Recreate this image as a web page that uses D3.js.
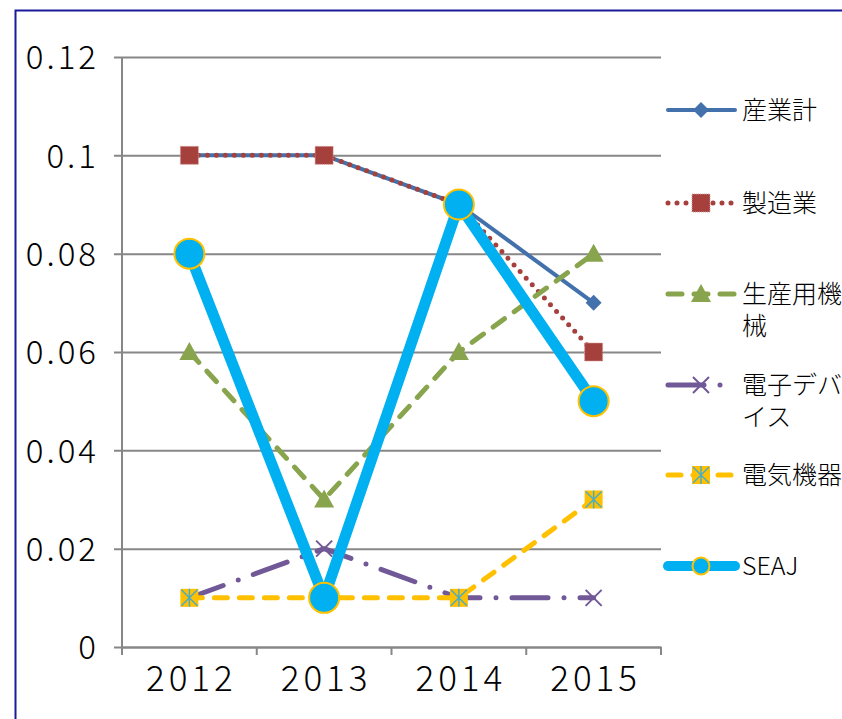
<!DOCTYPE html>
<html>
<head>
<meta charset="utf-8">
<script src="https://cdn.jsdelivr.net/npm/d3@7"></script>
<style>
  body { margin: 0; background: #fff; }
  text { font-family: "Noto Sans CJK JP", "Noto Sans", sans-serif; fill: #000; }
</style>
</head>
<body>
<script>
const years = ['2012', '2013', '2014', '2015'];
const yTicks = [0, 0.02, 0.04, 0.06, 0.08, 0.1, 0.12];

const sangyo = [0.1, 0.1, 0.09, 0.07];
const seizo = [0.1, 0.1, 0.09, 0.06];
const seisanKikai = [0.06, 0.03, 0.06, 0.08];
const denshiDevice = [0.01, 0.02, 0.01, 0.01];
const denkiKiki = [0.01, 0.01, 0.01, 0.03];
const seaj = [0.08, 0.01, 0.09, 0.05];

const width = 842;
const height = 719;

const series = [
    {name: ['産業計'], values: sangyo, color: '#4271AC', w: 4, dash: null, marker: 'diamond'},
    {name: ['製造業'], values: seizo, color: '#A5403D', w: 5, dash: '0 9', marker: 'square'},
    {name: ['生産用機', '械'], values: seisanKikai, color: '#88A44C', w: 5, dash: '14 12', marker: 'triangle'},
    {name: ['電子デバ', 'イス'], values: denshiDevice, color: '#705996', w: 5, dash: '36 16 0 16', marker: 'x'},
    {name: ['電気機器'], values: denkiKiki, color: '#FFC000', w: 5, dash: '13 12', marker: 'star'},
    {name: ['SEAJ'], values: seaj, color: '#00B0F0', w: 11, dash: null, marker: 'circle'}
];

const svg = d3.select('body').append('svg').
    attr('width', width).
    attr('height', height);

svg.append('rect').
    attr('x', 15.5).attr('y', 10.5).
    attr('width', 900).attr('height', 800).
    attr('fill', '#fff').
    attr('stroke', '#1a1a9c').
    attr('stroke-width', 2);

const plot = {left: 122, right: 661, top: 57, bottom: 647};

const xScale = d3.scaleBand().
    domain(years).
    range([plot.left, plot.right]);

const yScale = d3.scaleLinear().
    domain([0, 0.12]).
    range([plot.bottom, plot.top]);

const cx = (i) => xScale(years[i]) + xScale.bandwidth() / 2;

// gridlines + y axis
const yAxis = d3.axisLeft(yScale).
    tickValues(yTicks).
    tickSize(-(plot.right - plot.left)).
    tickFormat((d) => d3.format('')(+d.toFixed(2)));

const gy = svg.append('g').
    attr('transform', `translate(${plot.left}, 0)`).
    call(yAxis);
gy.select('.domain').remove();
gy.selectAll('.tick line').
    attr('x1', -8).
    attr('stroke', '#878787').
    attr('stroke-width', 2);
gy.selectAll('.tick text').
    attr('x', -23).
    attr('dy', '0.36em').
    style('font-size', '33px').
    style('font-weight', 300).
    style('letter-spacing', '3px').
    style('font-family', '"Noto Sans CJK JP", sans-serif');

svg.append('line').
    attr('x1', plot.left).attr('x2', plot.left).
    attr('y1', plot.top).attr('y2', plot.bottom + 8).
    attr('stroke', '#878787').attr('stroke-width', 2);

// x axis
const xAxis = d3.axisBottom(xScale).tickSize(0).tickPadding(19);
const gx = svg.append('g').
    attr('transform', `translate(0, ${plot.bottom})`).
    call(xAxis);
gx.select('.domain').attr('stroke', '#878787').attr('stroke-width', 2);
gx.selectAll('.tick text').
    attr('x', 2).
    style('font-size', '35px').
    style('font-weight', 300).
    style('letter-spacing', '4px').
    style('font-family', '"Noto Sans CJK JP", sans-serif');

svg.append('g').selectAll('line.xt').
    data(d3.range(years.length + 1)).
    join('line').
    attr('x1', (d) => plot.left + d * xScale.bandwidth()).
    attr('x2', (d) => plot.left + d * xScale.bandwidth()).
    attr('y1', plot.bottom).attr('y2', plot.bottom + 8).
    attr('stroke', '#878787').attr('stroke-width', 2);

const drawMarker = (g, s, x, y, small) => {
    if (s.marker === 'diamond') {
        g.append('path').
            attr('d', `M${x},${y - 8}L${x + 8},${y}L${x},${y + 8}L${x - 8},${y}Z`).
            attr('fill', s.color);
    } else if (s.marker === 'square') {
        g.append('rect').
            attr('x', x - 9).attr('y', y - 9).attr('width', 18).attr('height', 18).
            attr('fill', s.color).
            attr('stroke', '#d79a98').attr('stroke-width', 1).attr('stroke-dasharray', '1 1');
    } else if (s.marker === 'triangle') {
        g.append('path').
            attr('d', `M${x},${y - 10}L${x + 10},${y + 8}L${x - 10},${y + 8}Z`).
            attr('fill', s.color);
    } else if (s.marker === 'x') {
        g.append('path').
            attr('d', `M${x - 8},${y - 8}L${x + 8},${y + 8}M${x - 8},${y + 8}L${x + 8},${y - 8}`).
            attr('stroke', s.color).attr('stroke-width', 2);
    } else if (s.marker === 'star') {
        g.append('rect').
            attr('x', x - 9).attr('y', y - 9).attr('width', 18).attr('height', 18).
            attr('fill', s.color);
        g.append('path').
            attr('d', `M${x - 8},${y - 8}L${x + 8},${y + 8}M${x - 8},${y + 8}L${x + 8},${y - 8}M${x},${y - 9}L${x},${y + 9}`).
            attr('stroke', '#4BACC6').attr('stroke-width', 1.5);
    } else if (s.marker === 'circle') {
        g.append('circle').
            attr('cx', x).attr('cy', y).attr('r', small ? 8.5 : 15).
            attr('fill', s.color).
            attr('stroke', '#FFC000').attr('stroke-width', 2);
    }
};

const line = d3.line().
    x((d, i) => cx(i)).
    y((d) => yScale(d));

series.forEach((s) => {
    const g = svg.append('g');
    g.append('path').
        datum(s.values).
        attr('d', line).
        attr('fill', 'none').
        attr('stroke', s.color).
        attr('stroke-width', s.w).
        attr('stroke-linecap', 'round').
        attr('stroke-linejoin', 'round').
        attr('stroke-dasharray', s.dash);
    s.values.forEach((v, i) => drawMarker(g, s, cx(i), yScale(v), false));
});

// legend
const legendY = [110, 203, 294, 385, 475, 566];
series.forEach((s, k) => {
    const g = svg.append('g');
    const y = legendY[k];
    g.append('line').
        attr('x1', 668).attr('x2', 735).
        attr('y1', y).attr('y2', y).
        attr('stroke', s.color).
        attr('stroke-width', s.marker === 'circle' ? 10 : s.w).
        attr('stroke-linecap', 'round').
        attr('stroke-dasharray', s.dash);
    drawMarker(g, s, 701, y, true);
    const label = g.append('text').
        attr('x', 742).
        attr('y', y + 9).
        style('font-size', '25px').
        style('font-weight', 300);
    s.name.forEach((t, j) => {
        label.append('tspan').
            attr('x', 742).
            attr('dy', j === 0 ? 0 : 32).
            text(t);
    });
});
</script>
</body>
</html>
